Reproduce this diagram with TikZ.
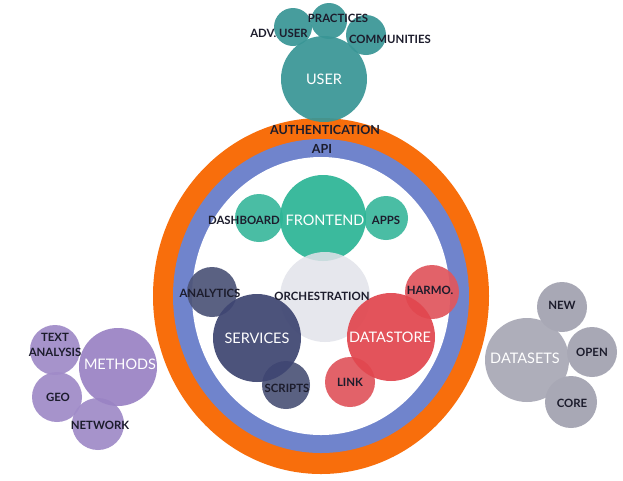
\documentclass[tikz,border=0pt]{standalone}
\usepackage{fontspec}
\setmainfont{Lato}
\definecolor{ctealuser}{HTML}{3A9696}
\definecolor{cfront}{HTML}{2DB596}
\definecolor{cfronts}{HTML}{3DB99E}
\definecolor{corch}{HTML}{E2E3EA}
\definecolor{cserv}{HTML}{3F4672}
\definecolor{cservs}{HTML}{4E5579}
\definecolor{cdata}{HTML}{E1474F}
\definecolor{cdatas}{HTML}{E0575E}
\definecolor{cmeth}{HTML}{9A83C4}
\definecolor{cmeths}{HTML}{A08BC8}
\definecolor{cset}{HTML}{A8A8B5}
\definecolor{csets}{HTML}{A2A2B0}
\definecolor{corange}{HTML}{F86E0C}
\definecolor{cblue}{HTML}{7084CC}
\definecolor{cink}{HTML}{1C1C2C}
\begin{document}
\begin{tikzpicture}[x=1pt,y=-1pt,
  bub/.style={circle, inner sep=0pt, minimum size=#1, fill opacity=0.93},
  lab/.style={text=cink, inner sep=0pt, font=\bfseries\fontsize{11.4}{14.5}\selectfont},
  big/.style={text=white, inner sep=0pt, font=\fontsize{14.5}{16}\selectfont},
  ring/.style={text=cink, inner sep=0pt, font=\bfseries\fontsize{12.5}{14}\selectfont}]
\useasboundingbox (0,0) rectangle (623,480);
\fill[white] (0,0) rectangle (623,480);
% rings
\fill[corange] (321,296) ellipse [x radius=168pt, y radius=178pt];
\fill[cblue] (321,296) ellipse [x radius=148pt, y radius=157pt];
\fill[white] (321,296) ellipse [x radius=129pt, y radius=139pt];
% user group
\node[bub=38, fill=ctealuser] (advc) at (293,27) {};
\node[bub=36, fill=ctealuser] (pracc) at (329,21) {};
\node[bub=40, fill=ctealuser] (commc) at (366,35) {};
\node[bub=86, fill=ctealuser] (user) at (324,79) {};
\node[big] (userl) at (user) {USER};
\node[lab] (advl) at (279,33) {ADV. USER};
\node[lab] (pracl) at (338,18) {PRACTICES};
\node[lab] (comml) at (390,39) {COMMUNITIES};
\node[ring] (auth) at (325,130) {AUTHENTICATION};
\node[ring] (api) at (322,149) {API};
% frontend
\node[bub=48, fill=cfronts] (dashc) at (259,218) {};
\node[bub=44, fill=cfronts] (appsc) at (386,218) {};
\node[bub=86, fill=cfront] (front) at (323,218) {};
% orchestration
\node[bub=90, fill=corch, fill opacity=0.85] (orch) at (325,297) {};
% services
\node[bub=50, fill=cservs] (anac) at (212,292) {};
\node[bub=48, fill=cservs] (scrc) at (286,385) {};
\node[bub=88, fill=cserv] (serv) at (257,338) {};
% datastore
\node[bub=54, fill=cdatas] (harc) at (432,292) {};
\node[bub=50, fill=cdatas] (linkc) at (350,382) {};
\node[bub=88, fill=cdata] (data) at (391,337) {};
% methods
\node[bub=50, fill=cmeths] (textc) at (55,350) {};
\node[bub=50, fill=cmeths] (geoc) at (57,397) {};
\node[bub=52, fill=cmeths] (netc) at (98,424) {};
\node[bub=78, fill=cmeth] (meth) at (118,367) {};
% datasets
\node[bub=50, fill=csets] (newc) at (562,307) {};
\node[bub=50, fill=csets] (openc) at (592,352) {};
\node[bub=52, fill=csets] (corec) at (571,402) {};
\node[bub=84, fill=cset] (dsets) at (527,360) {};
% labels
\node[lab] (dashl) at (244,220) {DASHBOARD};
\node[big] (frontl) at (325,220) {FRONTEND};
\node[lab] (appsl) at (386,220) {APPS};
\node[lab] (orchl) at (322,296) {ORCHESTRATION};
\node[lab] (anal) at (210,293) {ANALYTICS};
\node[big] (servl) at (257,338) {SERVICES};
\node[lab] (scrl) at (287,388) {SCRIPTS};
\node[big] (datal) at (390,337) {DATASTORE};
\node[lab] (harl) at (430,290) {HARMO.};
\node[lab] (linkl) at (350,382) {LINK};
\node[lab, align=center] (textl) at (55,345) {TEXT\\ANALYSIS};
\node[lab] (geol) at (58,397) {GEO};
\node[lab] (netl) at (100,425) {NETWORK};
\node[big] (methl) at (120,364) {METHODS};
\node[big] (dsetsl) at (525,358) {DATASETS};
\node[lab] (newl) at (562,305) {NEW};
\node[lab] (openl) at (592,352) {OPEN};
\node[lab] (corel) at (572,403) {CORE};
\end{tikzpicture}
\end{document}
